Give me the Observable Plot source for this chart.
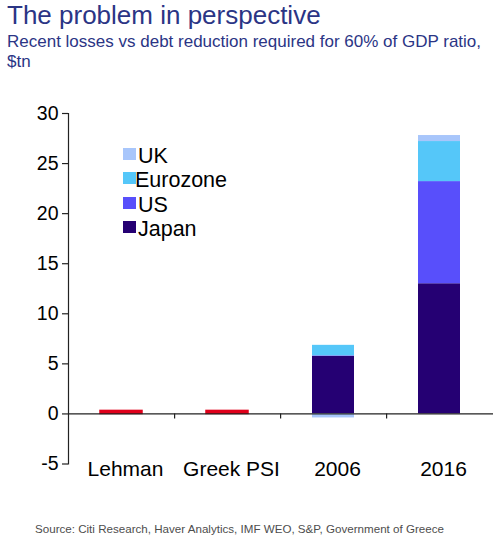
<!DOCTYPE html>
<html>
<head>
<meta charset="utf-8">
<script src="https://cdn.jsdelivr.net/npm/d3@7"></script>
<script src="https://cdn.jsdelivr.net/npm/@observablehq/plot@0.6"></script>
<style>
  html, body { margin: 0; padding: 0; background: #fff; }
  body { width: 500px; height: 545px; position: relative; overflow: hidden; font-family: "Liberation Sans", Arial, sans-serif; }
  #title { position: absolute; left: 7px; top: 0px; font-size: 26px; color: #2b3585; white-space: nowrap; }
  #subtitle { position: absolute; left: 7px; top: 32px; width: 485px; font-size: 17px; line-height: 20px; color: #2b3585; }
  #chart { position: absolute; left: 0; top: 80px; }
  #legend { position: absolute; left: 0; top: 0; }
  .li { position: absolute; font-size: 21.5px; color: #000; white-space: nowrap; }
  .sw { position: absolute; width: 13px; height: 12px; }
  #source { position: absolute; left: 35px; top: 522px; font-size: 11.6px; color: #4d4d4d; white-space: nowrap; }
</style>
</head>
<body>
<div id="title"></div>
<div id="subtitle"></div>
<div id="chart"></div>
<div id="legend"></div>
<div id="source"></div>
<script>
const titleText = "The problem in perspective";
const subtitleText = "Recent losses vs debt reduction required for 60% of GDP ratio, $tn";
const sourceText = "Source: Citi Research, Haver Analytics, IMF WEO, S&P, Government of Greece";

const categories = ["Lehman", "Greek PSI", "2006", "2016"];
const seriesNames = ["Japan", "US", "Eurozone", "UK"];
const seriesColors = ["#250073", "#584ffb", "#55c7f9", "#a8c6fb"];
const legendOrder = ["UK", "Eurozone", "US", "Japan"];

const japan    = [0, 0, 5.75, 13.0];
const us       = [0, 0, 0.05, 10.2];
const eurozone = [0, 0, 1.05, 4.0];
const uk       = [0, 0, -0.4, 0.6];
const losses   = [0.3, 0.3, 0, 0];
const lossColor = "#e0001b";

const yTicks = [-5, 0, 5, 10, 15, 20, 25, 30];

const seriesValues = { Japan: japan, US: us, Eurozone: eurozone, UK: uk };
const stacked = [];
seriesNames.forEach(s => categories.forEach((c, i) => {
  stacked.push({ category: c, series: s, value: seriesValues[s][i] });
}));
const lossData = categories.map((c, i) => ({ category: c, value: losses[i] })).filter(d => d.value !== 0);

document.getElementById("title").textContent = titleText;
document.getElementById("subtitle").textContent = subtitleText;
document.getElementById("source").textContent = sourceText;

const font = '"Liberation Sans", Arial, sans-serif';
const chart = Plot.plot({
  width: 500,
  height: 410,
  marginLeft: 68,
  marginRight: 7,
  marginTop: 33,
  marginBottom: 26.5,
  style: { fontFamily: font, color: "#000", background: "transparent", overflow: "visible" },
  x: { domain: categories, paddingInner: 0.6, paddingOuter: 0.3, label: null },
  y: { domain: [-5, 30], label: null },
  color: { domain: seriesNames, range: seriesColors },
  marks: [
    Plot.barY(stacked, {
      x: "category", y: "value", fill: "series",
      order: seriesNames
    }),
    Plot.barY(lossData, { x: "category", y: "value", fill: lossColor, stroke: lossColor, strokeWidth: 1.5 }),
    Plot.ruleY([0], { stroke: "#222", strokeWidth: 1.2 }),
    Plot.frame({ anchor: "left", stroke: "#222", strokeWidth: 1.2 }),
    Plot.ruleX(categories.slice(0, 3), { x: d => d, y1: 0, y2: -0.5, dx: 53.1, stroke: "#222", strokeWidth: 1.2 }),
    Plot.axisY({ ticks: yTicks, tickFormat: d => String(d), tickSize: 6, tickPadding: 4, fontSize: 19.5, stroke: "#222", strokeWidth: 1.2 }),
    Plot.axisX({ anchor: "bottom", tickSize: 0, tickPadding: -3, fontSize: 21, dx: 4 })
  ]
});
document.getElementById("chart").appendChild(chart);

const legend = document.getElementById("legend");
legendOrder.forEach((name, i) => {
  const color = seriesColors[seriesNames.indexOf(name)];
  const sw = document.createElement("div");
  sw.className = "sw";
  sw.style.left = "123px";
  sw.style.top = (148 + i * 24.4) + "px";
  sw.style.background = color;
  legend.appendChild(sw);
  const t = document.createElement("div");
  t.className = "li";
  t.textContent = name;
  t.style.left = (name === "Eurozone" ? 135 : 138) + "px";
  t.style.top = (144 + i * 24.4) + "px";
  legend.appendChild(t);
});
</script>
</body>
</html>
